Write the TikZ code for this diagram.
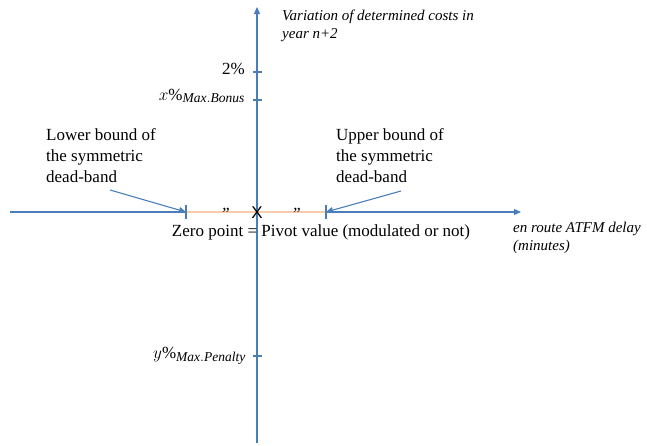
\documentclass[tikz,border=0pt]{standalone}
\usepackage{fontspec}
\setmainfont{Liberation Serif}
\newfontfamily\xfont{Liberation Sans}
\usetikzlibrary{arrows.meta}
\definecolor{axisblue}{RGB}{74,126,187}
\definecolor{bandorange}{RGB}{248,203,173}
\newcommand{\subtxt}[1]{\mbox{\fontsize{13.5}{14}\selectfont$\mathit{#1}$}}
\begin{document}
\begin{tikzpicture}[x=1pt,y=-1pt,
  axis/.style={draw=axisblue,line width=1.2pt,-{Triangle[length=7pt,width=6pt]}},
  pointer/.style={draw=axisblue,line width=1.1pt,-{Triangle[length=7pt,width=6pt]}},
  tickmark/.style={draw=axisblue,line width=1.2pt},
  bodytext/.style={inner sep=0pt,font=\fontsize{17}{21}\selectfont},
  italtext/.style={inner sep=0pt,align=left,font=\fontsize{15}{17.5}\selectfont\itshape},
  quotemark/.style={inner sep=0pt,anchor=base,font=\fontsize{17}{20}\selectfont\itshape},
  mathlabel/.style={inner sep=0pt,anchor=base east,font=\fontsize{17}{20}\selectfont}]
\useasboundingbox (0,0) rectangle (647,445);
% axes
\coordinate (xl) at (10,212);
\coordinate (xr) at (521,212);
\coordinate (yb) at (257,443);
\coordinate (yt) at (257,7);
\draw[axis] (xl) -- (xr);
\draw[axis] (yb) -- (yt);
% dead band
\coordinate (lo) at (186,212);
\coordinate (hi) at (326,212);
\draw[bandorange,line width=1.4pt] (lo) -- (hi);
\draw[tickmark] (186,205) -- (186,219);
\draw[tickmark] (326,205) -- (326,219);
% vertical ticks
\draw[tickmark] (253,72) -- (262,72);
\draw[tickmark] (253,100) -- (262,100);
\draw[tickmark] (253,356) -- (262,356);
\node[mathlabel] (two) at (245,74) {2\%};
\node[mathlabel] (bonus) at (245,100) {$x\%_{\subtxt{Max.Bonus}}$};
\node[mathlabel] (penalty) at (246,358) {$y\%_{\subtxt{Max.Penalty}}$};
% centre mark
\node[inner sep=0pt,font=\fontsize{17}{20}\selectfont\xfont] (zero) at (257,213) {X};
\node[quotemark] (q1) at (225,219) {''};
\node[quotemark] (q2) at (296,219) {''};
\node[bodytext,anchor=base] (pivot) at (321,236) {Zero point = Pivot value (modulated or not)};
% bound labels
\node[bodytext,align=left,anchor=north west] (lower) at (46,128.4) {Lower bound of\\the symmetric\\dead-band};
\node[bodytext,align=left,anchor=north west] (upper) at (336,128.4) {Upper bound of\\the symmetric\\dead-band};
\coordinate (ls) at (110,190);
\coordinate (us) at (401,191);
\draw[pointer] (ls) -- (lo);
\draw[pointer] (us) -- (hi);
% axis titles
\node[italtext,anchor=north west] (ytitle) at (282,10) {Variation of determined costs in\\year n+2};
\node[italtext,anchor=north west] (xtitle) at (513,222) {en route ATFM delay\\(minutes)};
\end{tikzpicture}
\end{document}
